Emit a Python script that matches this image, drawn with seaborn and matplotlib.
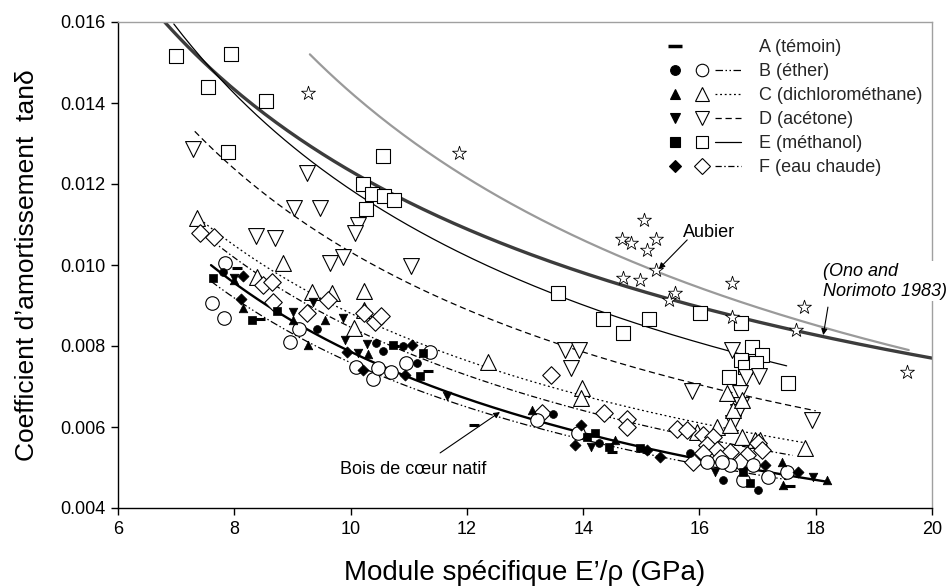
import numpy as np
import pandas as pd
import matplotlib
matplotlib.use("Agg")
import matplotlib.pyplot as plt
import seaborn as sns
from matplotlib.lines import Line2D
from matplotlib.legend_handler import HandlerTuple
from matplotlib.ticker import FormatStrFormatter

# ---------------- data (E'/rho in GPa, tan delta) ----------------
A_x = [8.05, 8.44, 11.33, 12.12, 14.50, 17.56, 10.75]
A_y = [0.00993, 0.00867, 0.00738, 0.00605, 0.00538, 0.00454, 0.00800]

B_fill_x = [7.81, 9.42, 10.44, 10.55, 11.14, 13.48, 14.27, 15.84, 16.41, 17.01, 10.90]
B_fill_y = [0.00983, 0.00842, 0.00807, 0.00788, 0.00759, 0.00632, 0.00560, 0.00536, 0.00469, 0.00444, 0.00800]
B_open_x = [7.62, 7.83, 7.84, 8.96, 9.11, 10.09, 10.39, 10.47, 10.70, 10.95, 11.37, 13.21, 13.91,
            16.13, 16.53, 16.75, 16.92, 17.18, 17.51, 16.39]
B_open_y = [0.00906, 0.00869, 0.01005, 0.00810, 0.00842, 0.00748, 0.00718, 0.00746, 0.00737, 0.00757, 0.00785,
            0.00617, 0.00585, 0.00514, 0.00506, 0.00469, 0.00506, 0.00477, 0.00489, 0.00514]

C_fill_x = [7.99, 8.15, 9.01, 9.27, 9.56, 13.12, 14.55, 17.42, 17.44, 18.19, 10.30]
C_fill_y = [0.00963, 0.00894, 0.00864, 0.00802, 0.00864, 0.00642, 0.00568, 0.00514, 0.00457, 0.00469, 0.00780]
C_open_x = [7.36, 8.84, 8.39, 9.34, 9.68, 10.23, 10.23, 10.06, 12.36, 13.98, 13.96, 15.96, 16.30, 16.53,
            16.58, 16.73, 16.47, 16.73, 16.96, 17.04, 17.82]
C_open_y = [0.01116, 0.01005, 0.00970, 0.00933, 0.00930, 0.00936, 0.00889, 0.00844, 0.00760, 0.00696, 0.00672,
            0.00588, 0.00600, 0.00605, 0.00642, 0.00667, 0.00684, 0.00575, 0.00568, 0.00568, 0.00548]

D_fill_x = [7.99, 9.01, 9.36, 9.87, 9.90, 10.28, 10.13, 11.66, 14.14, 17.95, 16.27]
D_fill_y = [0.00968, 0.00884, 0.00909, 0.00869, 0.00815, 0.00805, 0.00783, 0.00677, 0.00551, 0.00477, 0.00489]
D_open_x = [7.29, 9.25, 9.03, 9.47, 10.13, 10.08, 8.37, 8.70, 9.65, 9.87, 11.04, 13.69, 13.93, 13.79,
            15.87, 16.56, 16.80, 17.03, 17.94, 16.70, 16.72, 16.66, 16.58]
D_open_y = [0.01286, 0.01227, 0.01141, 0.01141, 0.01099, 0.01079, 0.01072, 0.01066, 0.01005, 0.01020, 0.00997,
            0.00790, 0.00790, 0.00746, 0.00689, 0.00790, 0.00724, 0.00726, 0.00617, 0.00684, 0.00654, 0.00637,
            0.00610]

E_fill_x = [7.63, 8.73, 8.30, 10.73, 11.25, 11.20, 14.20, 14.45, 14.07, 14.98, 16.87, 16.75]
E_fill_y = [0.00968, 0.00886, 0.00864, 0.00802, 0.00783, 0.00725, 0.00585, 0.00551, 0.00576, 0.00548, 0.00462,
            0.00489]
E_open_x = [7.00, 7.55, 7.95, 8.55, 7.89, 10.56, 10.21, 10.37, 10.58, 10.75, 10.27, 13.57, 14.34, 14.69,
            15.13, 16.01, 16.72, 16.90, 17.08, 16.72, 16.78, 16.97, 16.51, 17.52]
E_open_y = [0.01515, 0.01440, 0.01520, 0.01405, 0.01279, 0.01269, 0.01200, 0.01175, 0.01170, 0.01160, 0.01138,
            0.00931, 0.00867, 0.00832, 0.00867, 0.00882, 0.00857, 0.00798, 0.00778, 0.00765, 0.00748, 0.00757,
            0.00723, 0.00709]

F_fill_x = [8.15, 8.12, 9.94, 10.21, 10.94, 11.05, 13.96, 13.86, 15.10, 15.32, 17.13, 17.70]
F_fill_y = [0.00973, 0.00916, 0.00785, 0.00741, 0.00728, 0.00802, 0.00605, 0.00556, 0.00543, 0.00526, 0.00506,
            0.00489]
F_open_x = [7.41, 7.65, 8.49, 8.65, 8.67, 9.25, 9.61, 10.23, 10.42, 10.52, 13.29, 13.45, 14.36, 14.75, 14.75,
            15.61, 15.79, 16.06, 16.23, 16.13, 16.30, 16.53, 16.06, 16.35, 17.01, 17.08, 16.82, 16.70, 15.89]
F_open_y = [0.01079, 0.01069, 0.00951, 0.00959, 0.00909, 0.00881, 0.00913, 0.00881, 0.00860, 0.00874, 0.00634,
            0.00728, 0.00634, 0.00620, 0.00600, 0.00596, 0.00593, 0.00580, 0.00575, 0.00556, 0.00543, 0.00538,
            0.00536, 0.00523, 0.00560, 0.00543, 0.00531, 0.00514, 0.00514]

Aub_x = [9.27, 11.87, 15.05, 14.67, 14.82, 15.25, 15.10, 15.25, 14.69, 14.98, 16.56, 15.48, 15.58, 16.56,
         17.80, 17.66, 19.57]
Aub_y = [0.01425, 0.01277, 0.01111, 0.01064, 0.01054, 0.01064, 0.01037, 0.00988, 0.00968, 0.00963, 0.00956,
         0.00914, 0.00930, 0.00872, 0.00896, 0.00840, 0.00736]

# power-law trend lines  tan(delta) = a * (E'/rho)^b  over [x_start, x_end]
fit_names = ["Ono", "Aubier", "A", "B", "C", "D", "E", "F"]
fit_a = [0.0587, 0.1077, 0.0592, 0.05447, 0.05319, 0.0671, 0.07784, 0.05696]
fit_b = [-0.678, -0.878, -0.877, -0.856, -0.781, -0.813, -0.817, -0.828]
fit_x0 = [6.80, 9.30, 7.60, 7.60, 7.35, 7.32, 6.96, 7.45]
fit_x1 = [20.0, 19.6, 18.2, 17.5, 17.9, 18.0, 17.5, 17.6]

legend_labels = ["A (témoin)", "B (éther)", "C (dichlorométhane)", "D (acétone)",
                 "E (méthanol)", "F (eau chaude)"]

# ---------------- styles ----------------
line_style = {
    "Ono": dict(color="#3c3c3c", lw=2.4, ls="-"),
    "Aubier": dict(color="#9a9a9a", lw=1.6, ls="-"),
    "A": dict(color="black", lw=1.7, ls="-"),
    "B": dict(color="black", lw=0.9, ls=(0, (6, 2, 1.2, 2, 1.2, 2))),
    "C": dict(color="black", lw=0.9, ls=(0, (1.5, 2.2))),
    "D": dict(color="black", lw=0.9, ls=(0, (5, 3))),
    "E": dict(color="black", lw=0.9, ls="-"),
    "F": dict(color="black", lw=0.9, ls=(0, (5, 2, 1.2, 2))),
}

sns.set_theme(style="white")
plt.rcParams['font.family'] = ['Liberation Sans', 'DejaVu Sans']

fig = plt.figure(figsize=(9.49, 5.87), dpi=100)
ax = fig.add_axes([118 / 949, 1 - 508 / 587, (932 - 118) / 949, (508 - 22) / 587])

for name, a, b, x0, x1 in zip(fit_names, fit_a, fit_b, fit_x0, fit_x1):
    xs = np.linspace(x0, x1, 200)
    ys = a * xs ** b
    st = line_style[name]
    sns.lineplot(x=xs, y=ys, ax=ax, color=st["color"], linewidth=st["lw"],
                 linestyle=st["ls"], zorder=2)

open_kw = dict(color="white", edgecolor="black", linewidth=0.8, zorder=3)
fill_kw = dict(color="black", edgecolor="black", linewidth=0.5, zorder=4)

sns.scatterplot(x=E_open_x, y=E_open_y, marker="s", s=110, ax=ax, **open_kw)
sns.scatterplot(x=D_open_x, y=D_open_y, marker="v", s=130, ax=ax, **open_kw)
sns.scatterplot(x=C_open_x, y=C_open_y, marker="^", s=130, ax=ax, **open_kw)
sns.scatterplot(x=F_open_x, y=F_open_y, marker="D", s=80, ax=ax, **open_kw)
sns.scatterplot(x=B_open_x, y=B_open_y, marker="o", s=95, ax=ax, **open_kw)
sns.scatterplot(x=Aub_x, y=Aub_y, marker="*", s=110, ax=ax, color="white", edgecolor="black",
                linewidth=0.6, zorder=3)

sns.scatterplot(x=E_fill_x, y=E_fill_y, marker="s", s=32, ax=ax, **fill_kw)
sns.scatterplot(x=D_fill_x, y=D_fill_y, marker="v", s=38, ax=ax, **fill_kw)
sns.scatterplot(x=C_fill_x, y=C_fill_y, marker="^", s=38, ax=ax, **fill_kw)
sns.scatterplot(x=F_fill_x, y=F_fill_y, marker="D", s=32, ax=ax, **fill_kw)
sns.scatterplot(x=B_fill_x, y=B_fill_y, marker="o", s=32, ax=ax, **fill_kw)
sns.scatterplot(x=A_x, y=A_y, marker="_", s=50, ax=ax, color="black", edgecolor="black",
                linewidth=2.2, zorder=4)

# ---------------- axes ----------------
ax.set_xlim(6, 20)
ax.set_ylim(0.004, 0.016)
ax.set_xticks(np.arange(6, 21, 2))
ax.set_yticks(np.arange(0.004, 0.0161, 0.002))
ax.yaxis.set_major_formatter(FormatStrFormatter('%.3f'))
ax.tick_params(axis="both", which="major", bottom=True, left=True, direction="out",
               length=5, width=1, color="black", labelsize=13, labelcolor="black", pad=4)
for side in ["left", "bottom"]:
    ax.spines[side].set_color("black")
    ax.spines[side].set_linewidth(1.0)
for side in ["top", "right"]:
    ax.spines[side].set_color("#a0a0a0")
    ax.spines[side].set_linewidth(1.0)
ax.set_xlabel("Module spécifique E’/ρ (GPa)", fontsize=20, color="black", labelpad=16)
ax.set_ylabel("Coefficient d’amortissement  tanδ", fontsize=19, color="black", labelpad=15)

# ---------------- annotations ----------------
ax.text(15.72, 0.01081, "Aubier", fontsize=13, va="center", ha="left", color="black")
ax.annotate("", xy=(15.30, 0.0099), xytext=(15.79, 0.01062),
            arrowprops=dict(arrowstyle="-|>", color="black", lw=0.8, mutation_scale=9,
                            shrinkA=0, shrinkB=0))
ax.text(9.82, 0.00494, "Bois de cœur natif", fontsize=13, va="center", ha="left", color="black")
ax.annotate("", xy=(12.57, 0.00637), xytext=(11.54, 0.00536),
            arrowprops=dict(arrowstyle="-|>", color="black", lw=0.8, mutation_scale=9,
                            shrinkA=0, shrinkB=0))
ax.text(18.13, 0.0096, "(Ono and\nNorimoto 1983)", fontsize=13, style="italic", va="center",
        ha="left", color="black", linespacing=1.2, clip_on=False, zorder=6,
        bbox=dict(fc="white", ec="none", pad=1))
ax.annotate("", xy=(18.13, 0.00827), xytext=(18.21, 0.00896),
            arrowprops=dict(arrowstyle="-|>", color="black", lw=0.8, mutation_scale=9,
                            shrinkA=0, shrinkB=0))

# ---------------- legend ----------------
def mk(marker, filled, ms):
    return Line2D([], [], ls="none", marker=marker, markersize=ms,
                  markerfacecolor="black" if filled else "white",
                  markeredgecolor="black", markeredgewidth=0.8)

blank = Line2D([], [], ls="none")
handles = [
    (Line2D([], [], ls="none", marker="_", markersize=10, markeredgewidth=2.5, color="black"), blank, blank),
    (mk("o", True, 7), mk("o", False, 9), Line2D([], [], color="black", lw=0.9, ls=line_style["B"]["ls"])),
    (mk("^", True, 7), mk("^", False, 10), Line2D([], [], color="black", lw=0.9, ls=line_style["C"]["ls"])),
    (mk("v", True, 7), mk("v", False, 10), Line2D([], [], color="black", lw=0.9, ls=line_style["D"]["ls"])),
    (mk("s", True, 7), mk("s", False, 9), Line2D([], [], color="black", lw=0.9, ls="-")),
    (mk("D", True, 6), mk("D", False, 8), Line2D([], [], color="black", lw=0.9, ls=line_style["F"]["ls"])),
]
ax.legend(handles, legend_labels, handler_map={tuple: HandlerTuple(ndivide=None, pad=0.0)},
          loc="upper left", bbox_to_anchor=((662 - 118) / 814, (508 - 39) / 486),
          frameon=False, fontsize=13, handlelength=4.4, handletextpad=0.95,
          labelspacing=0.39, borderpad=0, borderaxespad=0)

fig.savefig("out.png", dpi=100, facecolor="white")
